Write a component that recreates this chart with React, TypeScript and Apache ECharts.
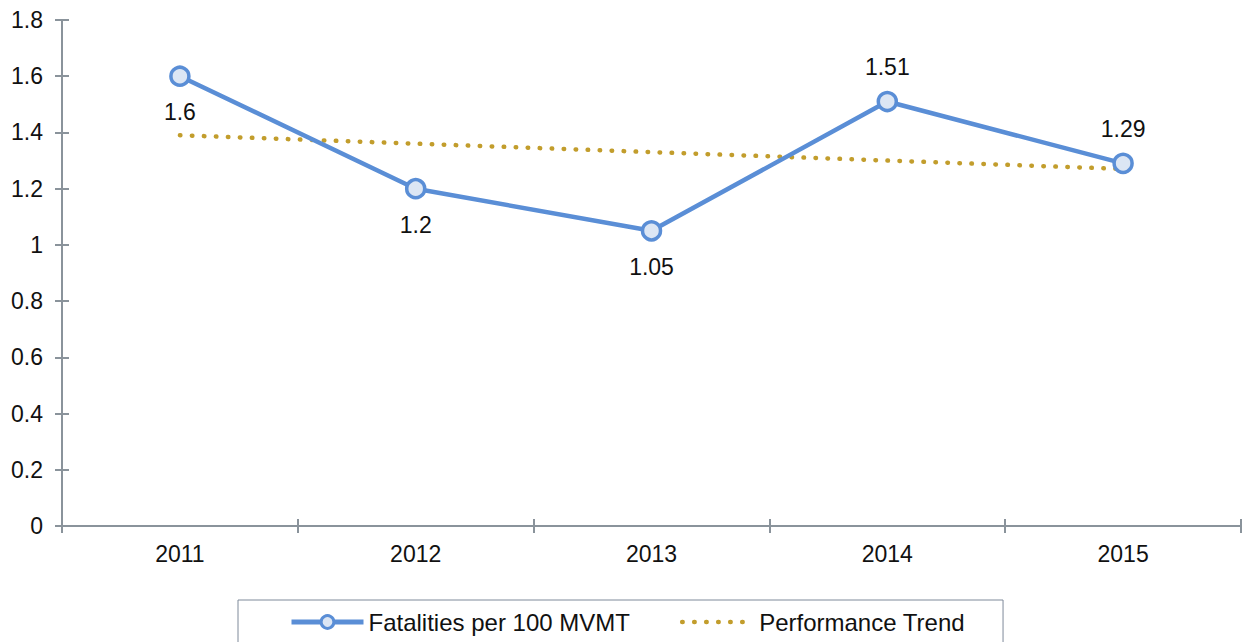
import React, { useEffect, useRef } from "react";
import * as echarts from "echarts";

const years = ["2011", "2012", "2013", "2014", "2015"];
const fatalities = [1.6, 1.2, 1.05, 1.51, 1.29];
const labelPositions = ["bottom", "bottom", "bottom", "top", "top"];
const trend = [1.39, 1.36, 1.33, 1.3, 1.27];

const FONT = "'Liberation Sans', Arial, sans-serif";
const FS = 23;
const AXIS_COLOR = "#8A939B";
const BLUE = "#5A8ED6";
const GOLD = "#C29D2C";
const DOTS = [0.5, 11.5];

export default function App() {
  const ref = useRef<HTMLDivElement>(null);
  useEffect(() => {
    document.body.style.margin = "0";
    const chart = echarts.init(ref.current!, undefined, { renderer: "svg" });
    const yBase = {
      type: "value",
      min: 0,
      max: 1.8,
      interval: 0.2,
      position: "left",
    };
    const xBase = {
      type: "category",
      data: years,
      boundaryGap: true,
      position: "bottom",
    };
    chart.setOption({
      animation: false,
      textStyle: { fontFamily: FONT },
      grid: { left: 62, right: 8, top: 20, bottom: 116, containLabel: false },
      legend: {
        left: 238,
        top: 600,
        padding: [10, 38, 20, 51],
        itemGap: 50,
        itemWidth: 72,
        itemHeight: 16,
        borderColor: "#7F8A9A",
        borderWidth: 1,
        borderRadius: 0,
        textStyle: { fontSize: 24, color: "#111", fontFamily: FONT },
        data: [
          {
            name: "Fatalities per 100 MVMT",
            lineStyle: { width: 5, color: BLUE },
            itemStyle: { color: "#DCE6F4", borderColor: BLUE, borderWidth: 3 },
          },
          {
            name: "Performance Trend",
            lineStyle: { width: 4.5, color: GOLD, type: DOTS, cap: "round" },
            itemStyle: { opacity: 0 },
          },
        ],
      },
      xAxis: [
        {
          ...xBase,
          axisLine: { show: true, lineStyle: { color: AXIS_COLOR, width: 2 } },
          axisTick: { show: true, inside: false, length: 7, lineStyle: { color: AXIS_COLOR, width: 2 } },
          axisLabel: { fontSize: FS, color: "#111", margin: 16, fontFamily: FONT },
          splitLine: { show: false },
        },
        {
          ...xBase,
          axisLine: { show: false },
          axisTick: { show: true, inside: true, length: 7, lineStyle: { color: AXIS_COLOR, width: 2 } },
          axisLabel: { show: false },
          splitLine: { show: false },
        },
      ],
      yAxis: [
        {
          ...yBase,
          axisLine: { show: true, lineStyle: { color: AXIS_COLOR, width: 2 } },
          axisTick: { show: true, inside: false, length: 7, lineStyle: { color: AXIS_COLOR, width: 2 } },
          axisLabel: { fontSize: FS, color: "#111", margin: 19, fontFamily: FONT },
          splitLine: { show: false },
        },
        {
          ...yBase,
          axisLine: { show: false },
          axisTick: { show: true, inside: true, length: 7, lineStyle: { color: AXIS_COLOR, width: 2 } },
          axisLabel: { show: false },
          splitLine: { show: false },
        },
      ],
      series: [
        {
          name: "Performance Trend",
          type: "line",
          data: trend,
          symbol: "none",
          color: GOLD,
          lineStyle: { color: GOLD, width: 4.5, type: DOTS, cap: "round" },
          z: 2,
        },
        {
          name: "Fatalities per 100 MVMT",
          type: "line",
          data: fatalities.map((v, i) => ({
            value: v,
            label: {
              position: labelPositions[i],
              distance: labelPositions[i] === "top" ? 12 : 14,
            },
          })),
          symbol: "circle",
          symbolSize: 18,
          color: BLUE,
          lineStyle: { color: BLUE, width: 4.5 },
          itemStyle: { color: "#DCE6F4", borderColor: BLUE, borderWidth: 3.5 },
          label: {
            show: true,
            fontSize: FS,
            color: "#111",
            distance: 14,
            fontFamily: FONT,
          },
          z: 3,
        },
      ],
    });
    return () => chart.dispose();
  }, []);
  return <div ref={ref} style={{ width: 1249, height: 642 }} />;
}
